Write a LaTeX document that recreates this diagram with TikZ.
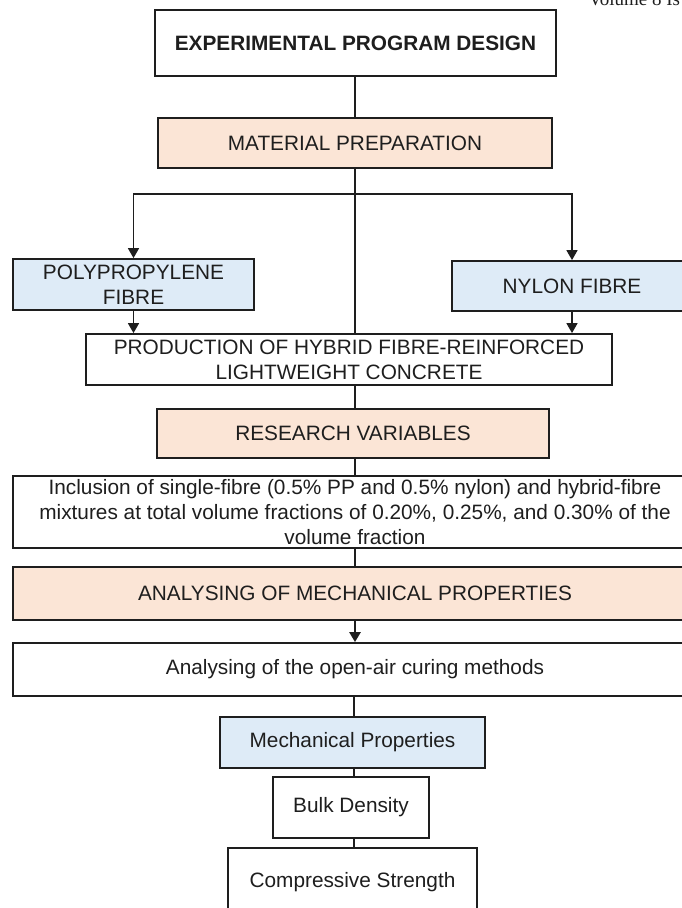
\documentclass[tikz,border=0pt]{standalone}
\usepackage{fontspec}
\setmainfont{Liberation Sans}
\newfontfamily\hdrfont{Liberation Serif}
\usetikzlibrary{arrows.meta}
\definecolor{peach}{HTML}{FBE5D6}
\definecolor{paleblue}{HTML}{DEEBF7}
\definecolor{ink}{HTML}{1E1E1E}
\begin{document}
\begin{tikzpicture}[x=1pt,y=-1pt,
  box/.style={draw=ink, line width=1.8pt, inner sep=0pt, align=center, text=ink,
    font=\fontsize{20.8}{24.8}\selectfont},
  sz/.style 2 args={minimum width=#1pt, minimum height=#2pt},
  orangebox/.style={box, fill=peach},
  bluebox/.style={box, fill=paleblue},
  whitebox/.style={box, fill=white},
  spine/.style={draw=ink, line width=2.6pt},
  spinearrow/.style={spine, -{Triangle[width=11pt,length=10pt]}},
  branch/.style={draw=ink, line width=1.6pt, -{Triangle[width=11pt,length=10pt]}}]
\fill[white] (0,0) rectangle (681,908);
\useasboundingbox (0,0) rectangle (681,908);

\node[anchor=base west, text=ink, font=\hdrfont\fontsize{19}{22}\selectfont] (hdr) at (585,5) {Volume 8 Is};

\node[whitebox, sz={401}{66}, font=\bfseries\fontsize{20.8}{24.8}\selectfont] (top) at (355.5,43) {EXPERIMENTAL PROGRAM DESIGN};
\node[orangebox, sz={394}{50}] (mat) at (355,143) {MATERIAL PREPARATION};
\node[bluebox, sz={241}{51}] (pp) at (133.5,284.5) {POLYPROPYLENE\\FIBRE};
\node[bluebox, sz={240}{50}] (ny) at (572,286) {NYLON FIBRE};
\node[whitebox, sz={526}{51}] (prod) at (349,359.5) {PRODUCTION OF HYBRID FIBRE-REINFORCED\\LIGHTWEIGHT CONCRETE};
\node[orangebox, sz={392}{49}] (res) at (353,433.5) {RESEARCH VARIABLES};
\node[whitebox, sz={684}{72}] (incl) at (355,512) {Inclusion of single-fibre (0.5\% PP and 0.5\% nylon) and hybrid-fibre\\mixtures at total volume fractions of 0.20\%, 0.25\%, and 0.30\% of the\\volume fraction};
\node[orangebox, sz={684}{53}] (anm) at (355,593.5) {ANALYSING OF MECHANICAL PROPERTIES};
\node[whitebox, sz={684}{53}] (cur) at (355,669.5) {Analysing of the open-air curing methods};
\node[bluebox, sz={265}{51}] (mech) at (352.5,742.5) {Mechanical Properties};
\node[whitebox, sz={156}{61}] (bulk) at (351,807.5) {Bulk Density};
\node[whitebox, sz={249}{68}] (comp) at (352.5,882) {Compressive Strength};

\coordinate (sx) at (355,0);
\coordinate (lx) at (354,0);
\coordinate (br) at (355,194);

\draw[spine] (top.south -| sx) -- (mat.north -| sx);
\draw[spine] (mat.south -| sx) -- (prod.north -| sx);
\draw[branch] (br) -| (pp.north);
\draw[branch] (br) -| (ny.north);
\draw[branch] (pp.south) -- (prod.north -| pp.south);
\draw[branch] (ny.south) -- (prod.north -| ny.south);
\draw[spine] (prod.south -| sx) -- (res.north -| sx);
\draw[spine] (res.south -| sx) -- (incl.north -| sx);
\draw[spine] (incl.south -| sx) -- (anm.north -| sx);
\draw[spinearrow] (anm.south -| sx) -- (cur.north -| sx);
\draw[spine] (cur.south -| lx) -- (mech.north -| lx);
\draw[spine] (mech.south -| lx) -- (bulk.north -| lx);
\draw[spine] (bulk.south -| lx) -- (comp.north -| lx);
\end{tikzpicture}
\end{document}
